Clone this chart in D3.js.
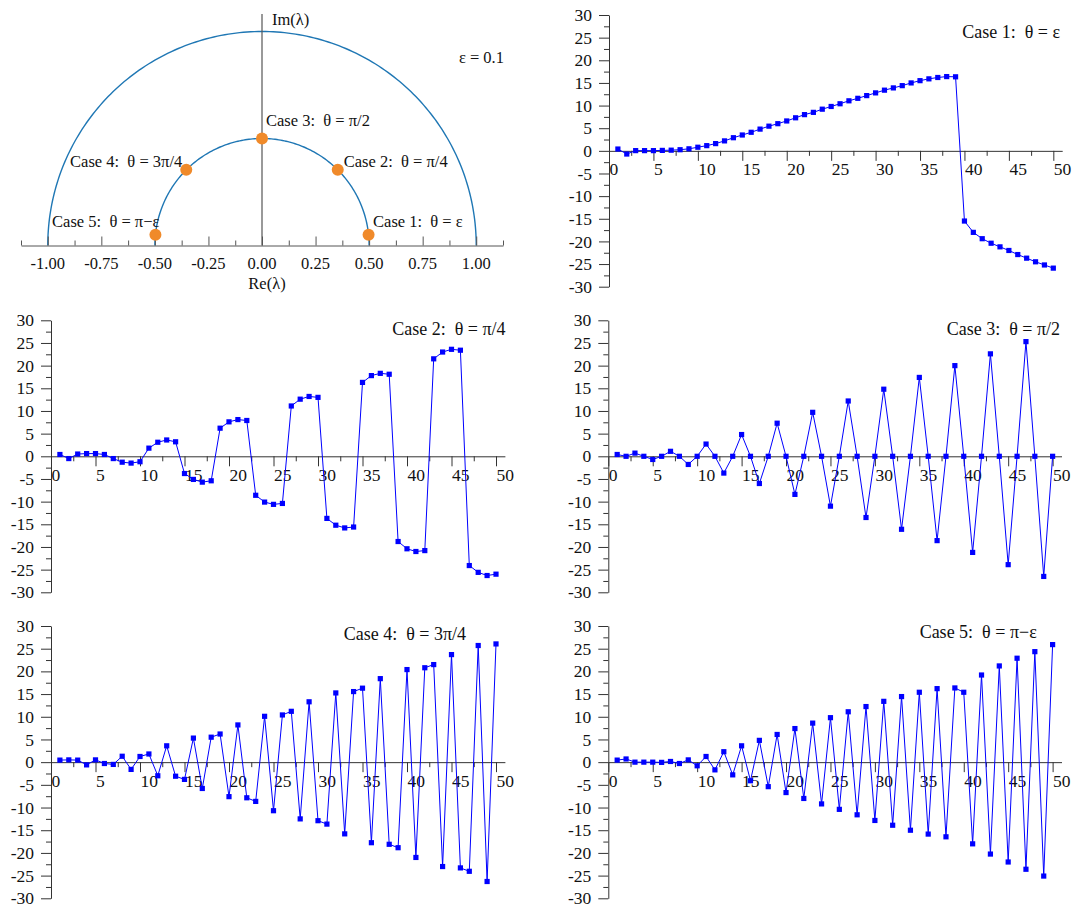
<!DOCTYPE html>
<html>
<head>
<meta charset="utf-8">
<script src="https://cdn.jsdelivr.net/npm/d3@7"></script>
<style>
  body { margin: 0; background: #fff; }
  text { font-family: "Liberation Serif", "Times New Roman", serif; font-size: 16.5px; fill: #111; }
  .series text { font-size: 17.5px; }
  .series text.title { font-size: 18px; }
</style>
</head>
<body>
<svg id="chart" width="1079" height="908"></svg>
<script>
// step index n = 1..50 on every series chart
var steps = d3.range(1, 51);

var case1 = [0.4, -0.7, 0.05, 0.05, 0.05, 0.1, 0.15, 0.25, 0.45, 0.8,
  1.15, 1.6, 2.2, 2.9, 3.5, 4.1, 4.8, 5.45, 6.0, 6.6,
  7.3, 8.0, 8.5, 9.2, 9.8, 10.4, 11.05, 11.6, 12.2, 12.8,
  13.4, 13.9, 14.4, 15.0, 15.5, 15.9, 16.2, 16.4, 16.35, -15.5,
  -18.0, -19.4, -20.4, -21.2, -22.0, -22.9, -23.7, -24.5, -25.2, -25.9];

var case2 = [0.4, -0.5, 0.5, 0.6, 0.6, 0.4, -0.5, -1.3, -1.5, -1.2,
  1.8, 3.1, 3.6, 3.2, -3.8, -5.1, -5.7, -5.4, 6.2, 7.6,
  8.1, 7.9, -8.6, -10.1, -10.6, -10.4, 11.1, 12.6, 13.2, 13.0,
  -13.7, -15.2, -15.8, -15.6, 16.3, 17.8, 18.3, 18.1, -18.8, -20.4,
  -21.0, -20.8, 21.5, 23.0, 23.6, 23.4, -24.1, -25.6, -26.3, -26.0];

var case3 = [0.4, 0, 0.7, 0, -0.7, 0, 1.1, 0, -1.8, 0,
  2.7, 0, -3.7, 0, 4.8, 0, -6.0, 0, 7.3, 0,
  -8.4, 0, 9.7, 0, -11.0, 0, 12.2, 0, -13.5, 0,
  14.8, 0, -16.1, 0, 17.4, 0, -18.6, 0, 20.0, 0,
  -21.2, 0, 22.6, 0, -23.9, 0, 25.3, 0, -26.5, 0];

var case4 = [0.45, 0.5, 0.45, -0.6, 0.5, -0.3, -0.5, 1.3, -1.6, 1.25,
  1.8, -3.0, 3.6, -3.1, -3.8, 5.3, -5.8, 5.5, 6.2, -7.6,
  8.2, -7.85, -8.65, 10.1, -10.7, 10.4, 11.2, -12.5, 13.3, -12.9,
  -13.65, 15.25, -15.8, 15.55, 16.3, -17.75, 18.4, -18.1, -18.85, 20.4,
  -21.0, 20.8, 21.5, -23.0, 23.7, -23.3, -24.05, 25.7, -26.3, 26.05];

var case5 = [0.45, 0.7, 0, 0, 0, -0.05, 0.15, -0.3, 0.5, -0.8,
  1.25, -1.7, 2.3, -2.8, 3.6, -4.1, 4.8, -5.4, 6.1, -6.7,
  7.4, -8.0, 8.6, -9.2, 9.8, -10.4, 11.1, -11.6, 12.25, -12.85,
  13.4, -13.9, 14.45, -15.0, 15.4, -15.85, 16.2, -16.45, 16.35, 15.4,
  -18.0, 19.2, -20.25, 21.2, -22.0, 22.9, -23.6, 24.35, -25.1, 25.9];

var caseNames = ["Case 1:  \u03b8 = \u03b5", "Case 2:  \u03b8 = \u03c0/4", "Case 3:  \u03b8 = \u03c0/2",
  "Case 4:  \u03b8 = 3\u03c0/4", "Case 5:  \u03b8 = \u03c0\u2212\u03b5"];

// polar panel
var radii = [1, 0.5];
var caseRadius = 0.5;
var caseAngles = [0.1, Math.PI / 4, Math.PI / 2, 3 * Math.PI / 4, Math.PI - 0.1];
var reMajor = [-1, -0.75, -0.5, -0.25, 0, 0.25, 0.5, 0.75, 1];
var reMinor = [-1.125, -0.875, -0.625, -0.375, -0.125, 0.125, 0.375, 0.625, 0.875, 1.125];
var epsText = "\u03b5 = 0.1";

// series axes
var yMajor = [-30, -25, -20, -15, -10, -5, 0, 5, 10, 15, 20, 25, 30];
var yMinor = [-27.5, -22.5, -17.5, -12.5, -7.5, -2.5, 2.5, 7.5, 12.5, 17.5, 22.5, 27.5];
var xMajor = [0, 5, 10, 15, 20, 25, 30, 35, 40, 45, 50];
var xMinor = [2.5, 7.5, 12.5, 17.5, 22.5, 27.5, 32.5, 37.5, 42.5, 47.5];

var svg = d3.select("#chart");

// ---------- polar diagram ----------
var px = d3.scaleLinear().domain([-1.125, 1.125]).range([21, 503]);
var py = d3.scaleLinear().domain([0, 1]).range([245.5, 31.5]);

var polar = svg.append("g");

var arcLine = d3.line()
  .x(function (a) { return px(a[0] * Math.cos(a[1])); })
  .y(function (a) { return py(a[0] * Math.sin(a[1])); });

radii.forEach(function (r) {
  var pts = d3.range(0, 181).map(function (k) { return [r, Math.PI * k / 180]; });
  polar.append("path")
    .attr("d", arcLine(pts))
    .attr("fill", "none")
    .attr("stroke", "#1f77b4")
    .attr("stroke-width", 1.4);
});

// Im axis
polar.append("line")
  .attr("x1", px(0)).attr("x2", px(0))
  .attr("y1", 14).attr("y2", py(0))
  .attr("stroke", "#555").attr("stroke-width", 1.2);

polar.append("g")
  .attr("transform", "translate(0," + py(0) + ")")
  .attr("color", "#555")
  .call(d3.axisTop(px).tickValues(reMajor).tickSize(9).tickSizeOuter(0).tickFormat(""));
polar.append("g")
  .attr("transform", "translate(0," + py(0) + ")")
  .attr("color", "#555")
  .call(d3.axisTop(px).tickValues(reMinor).tickSize(5).tickSizeOuter(0).tickFormat(""))
  .select(".domain").remove();

polar.selectAll(".relabel")
  .data(reMajor)
  .enter().append("text")
  .attr("x", function (d) { return px(d); })
  .attr("y", 263.5)
  .attr("dy", "0.35em")
  .attr("text-anchor", "middle")
  .text(function (d) { return d.toFixed(2); });

polar.append("text").attr("x", 267).attr("y", 283).attr("dy", "0.35em")
  .attr("text-anchor", "middle").text("Re(\u03bb)");
polar.append("text").attr("x", 272).attr("y", 19).attr("dy", "0.35em")
  .text("Im(\u03bb)");
polar.append("text").attr("x", 504).attr("y", 57).attr("dy", "0.35em")
  .attr("text-anchor", "end").text(epsText);

// label placement next to each case point
var labelOffsets = [
  { dx: 4.5, dy: -14, anchor: "start" },
  { dx: 6, dy: -9, anchor: "start" },
  { dx: 4, dy: -18, anchor: "start" },
  { dx: -4, dy: -9, anchor: "end" },
  { dx: 4, dy: -14, anchor: "end" }
];

caseAngles.forEach(function (t, i) {
  var cx = px(caseRadius * Math.cos(t));
  var cy = py(caseRadius * Math.sin(t));
  polar.append("text")
    .attr("x", cx + labelOffsets[i].dx)
    .attr("y", cy + labelOffsets[i].dy)
    .attr("dy", "0.35em")
    .attr("text-anchor", labelOffsets[i].anchor)
    .style("white-space", "pre")
    .text(caseNames[i]);
});

polar.selectAll(".casept")
  .data(caseAngles)
  .enter().append("circle")
  .attr("cx", function (t) { return px(caseRadius * Math.cos(t)); })
  .attr("cy", function (t) { return py(caseRadius * Math.sin(t)); })
  .attr("r", 6)
  .attr("fill", "#f08a2a");

// ---------- series panels ----------
function drawSeries(values, title, box, titlePos) {
  var x = d3.scaleLinear().domain([0, 51]).range([box.left, box.right]);
  var y = d3.scaleLinear().domain([-30, 30]).range([box.bottom, box.top]);
  var g = svg.append("g").attr("class", "series");

  g.append("g")
    .attr("transform", "translate(" + x(0) + ",0)")
    .attr("color", "#333")
    .call(d3.axisLeft(y).tickValues(yMajor).tickSize(10).tickSizeOuter(0).tickPadding(7)
      .tickFormat(function (d) { return String(d); }));
  g.append("g")
    .attr("transform", "translate(" + x(0) + ",0)")
    .attr("color", "#333")
    .call(d3.axisLeft(y).tickValues(yMinor).tickSize(5).tickSizeOuter(0).tickFormat(""))
    .select(".domain").remove();

  var xa = g.append("g")
    .attr("transform", "translate(0," + y(0) + ")")
    .attr("color", "#333")
    .call(d3.axisBottom(x).tickValues(xMajor).tickSize(10).tickSizeOuter(0).tickPadding(2)
      .tickFormat(function (d) { return String(d); }));
  xa.selectAll(".tick text").attr("text-anchor", "start");
  g.append("g")
    .attr("transform", "translate(0," + y(0) + ")")
    .attr("color", "#333")
    .call(d3.axisBottom(x).tickValues(xMinor).tickSize(5).tickSizeOuter(0).tickFormat(""))
    .select(".domain").remove();

  var line = d3.line()
    .x(function (d, i) { return x(steps[i]); })
    .y(function (d) { return y(d); });

  g.append("path")
    .attr("d", line(values))
    .attr("fill", "none")
    .attr("stroke", "#0000ff")
    .attr("stroke-width", 1);

  g.selectAll(".mk")
    .data(values)
    .enter().append("rect")
    .attr("x", function (d, i) { return x(steps[i]) - 2.6; })
    .attr("y", function (d) { return y(d) - 2.6; })
    .attr("width", 5.2)
    .attr("height", 5.2)
    .attr("fill", "#0000ff");

  g.append("text")
    .attr("class", "title")
    .attr("x", titlePos.x)
    .attr("y", titlePos.y)
    .attr("dy", "0.35em")
    .attr("text-anchor", "end")
    .style("white-space", "pre")
    .text(title);
}

drawSeries(case1, caseNames[0], { left: 609, right: 1062.2, top: 15, bottom: 286.7 }, { x: 1060, y: 32 });
drawSeries(case2, caseNames[1], { left: 51, right: 504.9, top: 320.3, bottom: 592.3 }, { x: 505.5, y: 329 });
drawSeries(case3, caseNames[2], { left: 608.3, right: 1061.5, top: 320.3, bottom: 592.3 }, { x: 1060, y: 329 });
drawSeries(case4, caseNames[3], { left: 51, right: 504.9, top: 626, bottom: 898.3 }, { x: 466, y: 634 });
drawSeries(case5, caseNames[4], { left: 608.3, right: 1061.5, top: 626, bottom: 898.3 }, { x: 1036.7, y: 632 });
</script>
</body>
</html>
